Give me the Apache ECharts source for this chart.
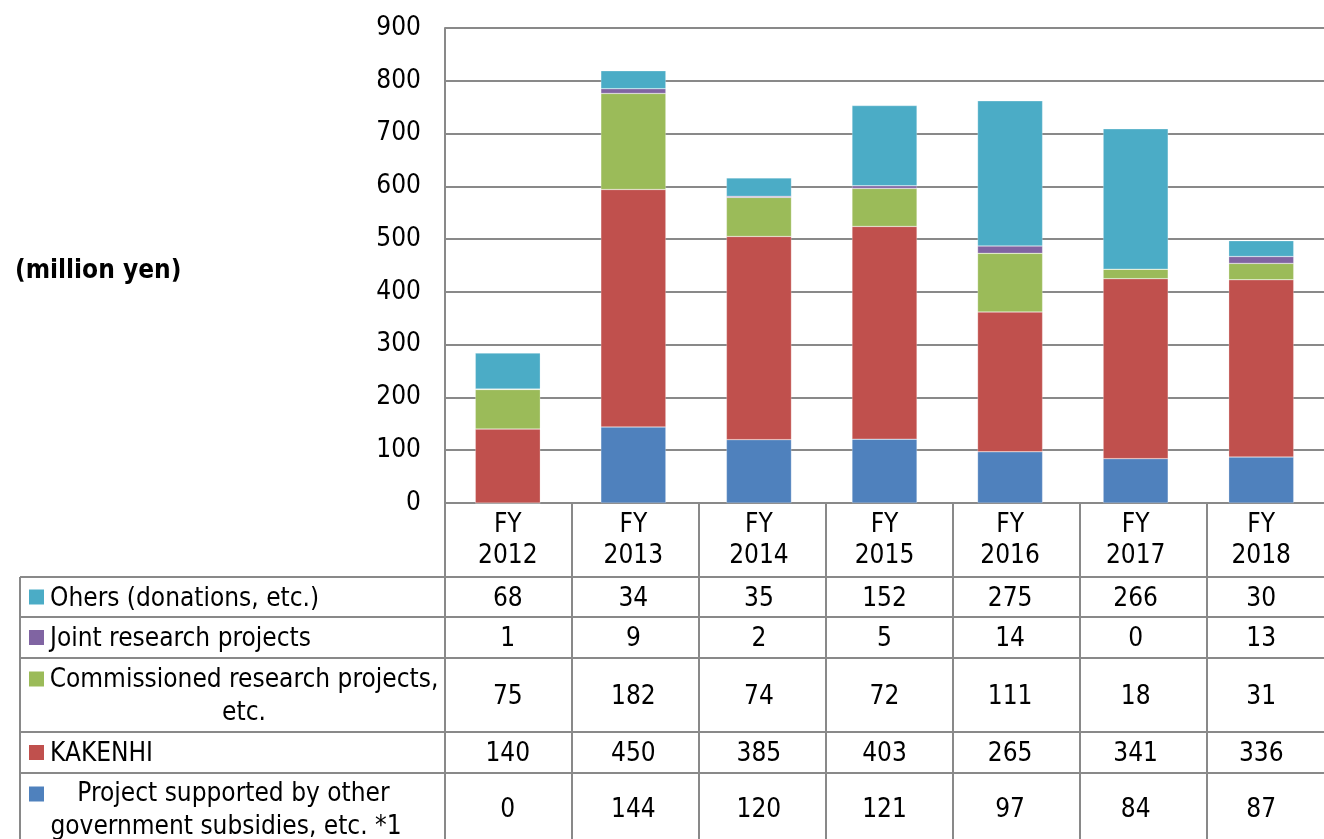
<!DOCTYPE html>
<html>
<head>
<meta charset="utf-8">
<script src="https://cdn.jsdelivr.net/npm/echarts@6/dist/echarts.min.js"></script>
<style>
  html, body { margin: 0; padding: 0; background: #fff; }
  #chart { width: 1324px; height: 839px; }
</style>
</head>
<body>
<div id="chart"></div>
<script>
// Fiscal years (header row of the data table)
const years = ['FY\n2012', 'FY\n2013', 'FY\n2014', 'FY\n2015', 'FY\n2016', 'FY\n2017', 'FY\n2018'];

// Funding by source, million yen
const others        = [68, 34, 35, 152, 275, 266, 30];
const jointResearch = [1, 9, 2, 5, 14, 0, 13];
const commissioned  = [75, 182, 74, 72, 111, 18, 31];
const kakenhi       = [140, 450, 385, 403, 265, 341, 336];
const govSubsidies  = [0, 144, 120, 121, 97, 84, 87];

const yTicks = [0, 100, 200, 300, 400, 500, 600, 700, 800, 900];

const FONT = "'DejaVu Sans Condensed', 'DejaVu Sans', sans-serif";
const FS = 26;
const LINE = '#898989';
const colors = {
  others: '#4BACC6',
  joint: '#8064A2',
  commissioned: '#9BBB59',
  kakenhi: '#C0504D',
  gov: '#4F81BD'
};

// Table rows, top to bottom, with their row bands (y from / to)
const tableRows = [
  { name: 'Ohers (donations, etc.)', values: others, color: colors.others, y0: 577, y1: 617 },
  { name: 'Joint research projects', values: jointResearch, color: colors.joint, y0: 617, y1: 658 },
  { name: 'Commissioned research projects,\netc.', values: commissioned, color: colors.commissioned, y0: 658, y1: 732, markerY: 679, labelX: 244 },
  { name: 'KAKENHI', values: kakenhi, color: colors.kakenhi, y0: 732, y1: 773 },
  { name: '  Project supported by other\ngovernment subsidies, etc. *1', values: govSubsidies, color: colors.gov, y0: 773, y1: 844, markerY: 794, labelX: 226 }
];

const GRID_LEFT = 445, GRID_TOP = 28, COL_W = 127, GRID_H = 475;
const GRID_W = COL_W * years.length;
const GRID_BOTTOM_Y = GRID_TOP + GRID_H;
const TEXT_DY = 2; // baseline nudge for table text

const chart = echarts.init(document.getElementById('chart'), null, { renderer: 'canvas' });

function barSeries(name, data, color) {
  return {
    name: name,
    type: 'bar',
    stack: 'total',
    data: data,
    barWidth: 65,
    itemStyle: { color: color, borderColor: 'rgba(255,255,255,0.5)', borderWidth: 0.5 },
    emphasis: { disabled: true }
  };
}

chart.setOption({
  animation: false,
  backgroundColor: '#fff',
  grid: { left: GRID_LEFT, top: GRID_TOP, width: GRID_W, height: GRID_H, containLabel: false },
  xAxis: {
    type: 'category',
    data: years,
    axisLine: { show: true, lineStyle: { color: LINE, width: 2 } },
    axisTick: { show: false },
    axisLabel: {
      color: '#000', fontFamily: FONT, fontSize: FS, lineHeight: 31, margin: 7,
      align: 'center'
    },
    splitLine: { show: false }
  },
  yAxis: {
    type: 'value',
    min: 0, max: 900, interval: 100,
    axisLine: { show: true, lineStyle: { color: LINE, width: 2 } },
    axisTick: { show: false },
    axisLabel: {
      color: '#000', fontFamily: FONT, fontSize: FS, margin: 24,
      formatter: v => (yTicks.indexOf(v) >= 0 ? String(v) : '')
    },
    splitLine: { show: true, lineStyle: { color: LINE, width: 2 } }
  },
  series: [
    barSeries('Project supported by other government subsidies, etc. *1', govSubsidies, colors.gov),
    barSeries('KAKENHI', kakenhi, colors.kakenhi),
    barSeries('Commissioned research projects, etc.', commissioned, colors.commissioned),
    barSeries('Joint research projects', jointResearch, colors.joint),
    barSeries('Ohers (donations, etc.)', others, colors.others)
  ]
});

// Data table below the plot
const graphics = [];
const line = (x1, y1, x2, y2) => ({
  type: 'line', silent: true, z: 10,
  shape: { x1, y1, x2, y2 },
  style: { stroke: LINE, lineWidth: 2 }
});

// column dividers
for (let i = 0; i <= years.length; i++) {
  const x = GRID_LEFT + COL_W * i;
  graphics.push(line(x, GRID_BOTTOM_Y, x, 845));
}
// left edge of the label column
graphics.push(line(20, 577, 20, 845));
// row dividers
const rowLines = [577, 617, 658, 732, 773];
rowLines.forEach(y => graphics.push(line(20, y, GRID_LEFT + GRID_W + 10, y)));

tableRows.forEach(row => {
  const cy = (row.y0 + row.y1) / 2 + TEXT_DY;
  const my = row.markerY !== undefined ? row.markerY : cy - TEXT_DY;
  // legend key
  graphics.push({
    type: 'rect', silent: true, z: 11,
    shape: { x: 29, y: my - 7.5, width: 15, height: 15 },
    style: { fill: row.color }
  });
  // row label
  const multi = row.labelX !== undefined;
  graphics.push({
    type: 'text', silent: true, z: 11,
    x: multi ? row.labelX : 50, y: cy,
    style: {
      text: row.name, fill: '#000', font: FS + 'px ' + FONT,
      align: multi ? 'center' : 'left', verticalAlign: 'middle', lineHeight: 33
    }
  });
  // values
  row.values.forEach((v, i) => {
    const x = chart.convertToPixel({ xAxisIndex: 0 }, i);
    graphics.push({
      type: 'text', silent: true, z: 11,
      x: x, y: cy,
      style: { text: String(v), fill: '#000', font: FS + 'px ' + FONT, align: 'center', verticalAlign: 'middle' }
    });
  });
});

// unit label
graphics.push({
  type: 'text', silent: true, z: 11,
  x: 15, y: 271,
  style: { text: '(million yen)', fill: '#000', font: 'bold 26px ' + FONT, align: 'left', verticalAlign: 'middle' }
});

chart.setOption({ graphic: graphics });
</script>
</body>
</html>
